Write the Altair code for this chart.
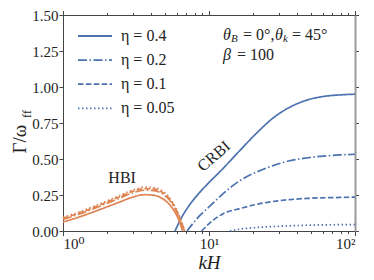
import altair as alt
import pandas as pd

BLUE = "#4c72b0"
ORANGE = "#dd8452"
FONT = "'Liberation Serif', 'Times New Roman', Times, 'DejaVu Serif', serif"

etas = ["η = 0.4", "η = 0.2", "η = 0.1", "η = 0.05"]
dashes = [[1, 0], [9, 2.5, 1.5, 2.5], [5.5, 2.4], [1.5, 2.5]]

# CRBI branch (blue)
crbi_k_04 = [5.85, 6.5, 7.41, 8.5, 9.64, 12.5, 16.3, 21.2, 27.5, 35.8, 46.5, 60.4, 78.5, 100]
crbi_g_04 = [0.0, 0.095, 0.185, 0.26, 0.32, 0.435, 0.56, 0.68, 0.785, 0.86, 0.908, 0.934, 0.945, 0.95]
crbi_k_02 = [7.07, 8.7, 10, 12.5, 16.3, 21.2, 27.5, 35.8, 46.5, 60.4, 78.5, 100]
crbi_g_02 = [0.0, 0.11, 0.167, 0.26, 0.35, 0.41, 0.454, 0.488, 0.507, 0.52, 0.528, 0.533]
crbi_k_01 = [8.9, 10.7, 12.5, 16.3, 21.2, 27.5, 35.8, 46.5, 78.5, 100]
crbi_g_01 = [0.0, 0.076, 0.12, 0.156, 0.185, 0.205, 0.218, 0.226, 0.233, 0.235]
crbi_k_005 = [13.9, 16.3, 21.2, 27.5, 35.8, 46.5, 78.5, 100]
crbi_g_005 = [0.0, 0.013, 0.024, 0.031, 0.036, 0.04, 0.044, 0.045]

# HBI branch (orange)
hbi_k_04 = [1.0, 1.3, 1.8, 2.4, 3.0, 3.6, 4.2, 4.8, 5.4, 6.0, 6.3, 6.6]
hbi_g_04 = [0.062, 0.098, 0.15, 0.198, 0.235, 0.252, 0.248, 0.225, 0.18, 0.11, 0.06, 0.0]
hbi_k = [1.0, 1.3, 1.8, 2.4, 3.0, 3.6, 4.2, 4.8, 5.4, 6.0, 6.4, 6.8]
hbi_g_02 = [0.08, 0.118, 0.173, 0.225, 0.265, 0.283, 0.28, 0.258, 0.21, 0.135, 0.07, 0.0]
hbi_g_01 = [0.088, 0.126, 0.182, 0.235, 0.275, 0.294, 0.291, 0.268, 0.22, 0.142, 0.075, 0.0]
hbi_g_005 = [0.095, 0.133, 0.19, 0.243, 0.284, 0.305, 0.302, 0.278, 0.228, 0.148, 0.08, 0.0]

x_ticks = [1, 2, 3, 4, 5, 6, 7, 8, 9, 10, 20, 30, 40, 50, 60, 70, 80, 90, 100]
y_ticks = [0, 0.25, 0.5, 0.75, 1.0, 1.25, 1.5]

rows = []
def add(fam, eta, ks, gs):
    for k, g in zip(ks, gs):
        rows.append(dict(k=k, g=g, eta=eta, fam=fam))

add("CRBI", etas[0], crbi_k_04, crbi_g_04)
add("CRBI", etas[1], crbi_k_02, crbi_g_02)
add("CRBI", etas[2], crbi_k_01, crbi_g_01)
add("CRBI", etas[3], crbi_k_005, crbi_g_005)
add("HBI", etas[0], hbi_k_04, hbi_g_04)
add("HBI", etas[1], hbi_k, hbi_g_02)
add("HBI", etas[2], hbi_k, hbi_g_01)
add("HBI", etas[3], hbi_k, hbi_g_005)
df = pd.DataFrame(rows)

x_scale = alt.Scale(type="log", domain=[1, 100], nice=False)
y_scale = alt.Scale(domain=[0, 1.5], nice=False, zero=False)

major = "datum.value == 1 || datum.value == 10 || datum.value == 100"
x_tick_size = {"condition": {"test": major, "value": 4.5}, "value": 2.5}

lines = alt.Chart(df).mark_line(strokeWidth=1.7, interpolate="monotone").encode(
    x=alt.X("k:Q", scale=x_scale, axis=alt.Axis(
        orient="bottom", values=x_ticks, tickSize=x_tick_size, grid=False,
        labelExpr="datum.value == 1 ? '10⁰' : datum.value == 10 ? '10¹' : datum.value == 100 ? '10²' : ''",
        labelFont=FONT, labelFontSize=15, labelColor="#222", labelPadding=1,
        domainColor="#444", tickColor="#444",
        title="kH", titleFont=FONT, titleFontSize=19, titleFontStyle="italic",
        titleFontWeight="normal", titleColor="#222", titlePadding=2)),
    y=alt.Y("g:Q", scale=y_scale, axis=alt.Axis(
        orient="left", values=y_ticks, format=".2f", tickSize=4, grid=False,
        labelFont=FONT, labelFontSize=15, labelColor="#222", labelPadding=1,
        domainColor="#444", tickColor="#444", title=None)),
    color=alt.Color("fam:N", scale=alt.Scale(domain=["CRBI", "HBI"], range=[BLUE, ORANGE]), legend=None),
    strokeDash=alt.StrokeDash("eta:N", scale=alt.Scale(domain=etas, range=dashes), legend=alt.Legend(
        orient="none", legendX=14, legendY=13, title=None, symbolType="stroke",
        symbolSize=1156, symbolStrokeWidth=1.8, symbolStrokeColor=BLUE,
        labelFont=FONT, labelFontSize=16, labelColor="#222", labelOffset=8,
        clipHeight=16, rowPadding=8.1, padding=0)),
)

frame = alt.Chart(df).mark_point(opacity=0).encode(
    x=alt.X("k:Q", scale=x_scale, axis=alt.Axis(
        orient="top", values=x_ticks, tickSize=x_tick_size, labels=False, grid=False,
        domainColor="#444", tickColor="#444", title=None)),
    y=alt.Y("g:Q", scale=y_scale, axis=alt.Axis(
        orient="right", values=y_ticks, tickSize=3.5, labels=False, grid=False,
        domainColor="#999", domainWidth=2, tickColor="#444", title=None)),
)

# in-plot labels (data coordinates)
lab_text = ["HBI", "CRBI"]
lab_k = [2.54, 10.8]
lab_g = [0.365, 0.52]
lab_angle = [0, 319]
labels = alt.Chart(pd.DataFrame(dict(t=lab_text, k=lab_k, g=lab_g, a=lab_angle))).mark_text(
    font=FONT, fontSize=16, color="#222", baseline="middle", align="center").encode(
    x=alt.X("k:Q", scale=x_scale, axis=None),
    y=alt.Y("g:Q", scale=y_scale, axis=None),
    angle=alt.Angle("a:Q", scale=None),
    text="t:N")

# parameter annotation pieces
it_text = ["θ", "θ", "β"]
it_k = [12.47, 28.3, 12.47]
it_g = [1.363, 1.363, 1.225]
sub_text = ["B", "k"]
sub_k = [14.15, 32.1]
sub_g = [1.33, 1.33]
rm_text = ["= 0°,", "= 45°", "= 100"]
rm_k = [17.1, 37.0, 15.55]
rm_g = [1.363, 1.363, 1.225]

def txt(texts, ks, gs, size, style):
    return alt.Chart(pd.DataFrame(dict(t=texts, k=ks, g=gs))).mark_text(
        font=FONT, fontSize=size, fontStyle=style, color="#222", align="left", baseline="middle").encode(
        x=alt.X("k:Q", scale=x_scale, axis=None),
        y=alt.Y("g:Q", scale=y_scale, axis=None),
        text="t:N")

ann_it = txt(it_text, it_k, it_g, 16, "italic")
ann_sub = txt(sub_text, sub_k, sub_g, 11, "italic")
ann_rm = txt(rm_text, rm_k, rm_g, 16, "normal")

# y-axis title
ytitle = alt.Chart(pd.DataFrame(dict(t=["Γ/ω"]))).mark_text(
    font=FONT, fontSize=19, color="#222", angle=270, align="center", baseline="middle").encode(
    x=alt.value(-43), y=alt.value(124), text="t:N")
ysub = alt.Chart(pd.DataFrame(dict(t=["ff"]))).mark_text(
    font=FONT, fontSize=12, color="#222", angle=270, align="center", baseline="middle").encode(
    x=alt.value(-36), y=alt.value(99), text="t:N")

chart = alt.layer(lines, frame, labels, ann_it, ann_sub, ann_rm, ytitle, ysub).resolve_axis(
    x="independent", y="independent").properties(
    width=292, height=216,
    autosize=alt.AutoSizeParams(type="none"),
    padding={"left": 55, "top": 7, "right": 11, "bottom": 41},
).configure_view(stroke=None).configure(background="white")

chart.save("out.html", embed_options={"renderer": "svg", "actions": False})
